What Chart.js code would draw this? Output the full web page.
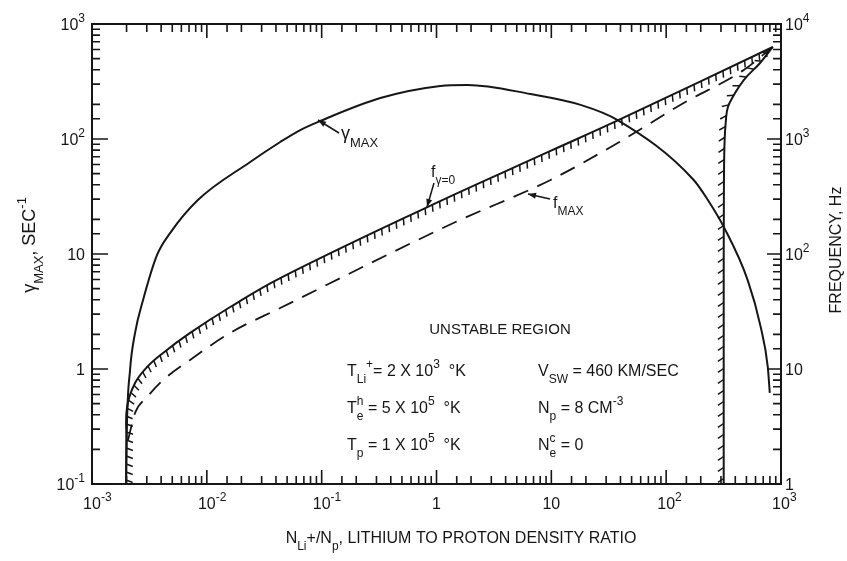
<!DOCTYPE html>
<html>
<head>
<meta charset="utf-8">
<script src="https://cdn.jsdelivr.net/npm/chart.js@4.4.1/dist/chart.umd.min.js"></script>
<style>
html, body { margin: 0; padding: 0; background: #fff; }
#wrap { width: 847px; height: 561px; }
</style>
</head>
<body>
<div id="wrap"><canvas id="chart" width="847" height="561"></canvas></div>
<script>
// Datos (x = N_Li+/N_p)
// gamma_MAX, eje izquierdo (SEC^-1)
const gammaX = [1.98e-3, 2.007e-3, 2.145e-3, 2.371e-3, 2.784e-3, 3.687e-3, 4.786e-3, 8.40e-3, 0.02385, 0.04356, 0.06508, 0.09723, 0.3243, 1.081, 1.86, 6.587, 17.97, 37.78, 173.7, 230, 317.2, 513.6, 666.8, 767.4, 798.6];
const gammaY = [0.1, 0.278, 0.98, 2.06, 3.98, 9.82, 15.2, 29.6, 63.1, 94.2, 119.7, 143.4, 227, 289, 295, 246, 198, 146, 44, 29.6, 17.2, 5.9, 2.3, 1.04, 0.62];

// f_gamma=0, eje derecho (Hz)
const fZeroX = [1.98e-3, 1.995e-3, 2.019e-3, 2.371e-3, 3.016e-3, 4.159e-3, 7.152e-3, 0.01597, 0.04356, 0.8333, 9.84, 37.1, 848];
const fZeroY = [1, 2.41, 4.67, 7.55, 10.4, 13.8, 20.6, 34.6, 61.8, 256, 787, 1435, 6310];

// borde derecho de la región inestable (Hz)
const edgeX = [317, 317, 318, 322, 332, 345, 380, 474, 657, 848];
const edgeY = [1, 30, 300, 900, 1500, 1900, 2317, 3258, 4581, 6310];

// f_MAX, eje derecho (Hz)
const fMaxX = [2.06e-3, 2.371e-3, 3.016e-3, 4.159e-3, 7.152e-3, 0.01597, 0.04356, 1.404, 9.84, 37.78, 142.1, 474, 848];
const fMaxY = [2.41, 4.15, 5.7, 8.0, 12.0, 20.6, 33.9, 186, 440, 923, 2056, 3981, 6310];

// Etiquetas de los ejes: [base, exponente]
const xTickVals = [1e-3, 1e-2, 1e-1, 1, 10, 100, 1000];
const xTickLabels = [['10', '-3'], ['10', '-2'], ['10', '-1'], ['1'], ['10'], ['10', '2'], ['10', '3']];
const yTickVals = [0.1, 1, 10, 100, 1000];
const yTickLabels = [['10', '-1'], ['1'], ['10'], ['10', '2'], ['10', '3']];
const fTickVals = [1, 10, 100, 1000, 10000];
const fTickLabels = [['1'], ['10'], ['10', '2'], ['10', '3'], ['10', '4']];

const ink = '#161616';
const fontFam = '"Liberation Sans", Arial, sans-serif';

function toPoints(xs, ys) {
    return xs.map((x, i) => ({ x: x, y: ys[i] }));
}

// Texto con subíndices y superíndices
function drawRich(ctx, runs, x, y, size, anchor) {
    const small = Math.round(size * 0.72);
    const parts = runs.map(([t, k]) => {
        const fs = (k === 'n') ? size : small;
        ctx.font = fs + 'px ' + fontFam;
        return { t: t, k: k, fs: fs, w: ctx.measureText(t).width };
    });
    let total = 0, prevW = 0;
    parts.forEach(p => {
        if (p.k === 'over') {
            total += Math.max(0, p.w - prevW);
        } else {
            total += p.w;
            prevW = p.w;
        }
    });
    let cx = x;
    if (anchor === 'center') cx = x - total / 2;
    else if (anchor === 'right') cx = x - total;
    else if (anchor === 'first') cx = x - parts[0].w / 2;
    ctx.textAlign = 'left';
    ctx.textBaseline = 'alphabetic';
    let lastX = cx, lastW = 0;
    parts.forEach(p => {
        let dy = 0;
        if (p.k === 'sub') dy = size * 0.45;
        if (p.k === 'sup' || p.k === 'over') dy = -size * 0.48;
        ctx.font = p.fs + 'px ' + fontFam;
        if (p.k === 'over') {
            ctx.fillText(p.t, lastX, y + dy);
            cx = lastX + Math.max(lastW, p.w);
        } else {
            ctx.fillText(p.t, cx, y + dy);
            lastX = cx;
            lastW = p.w;
            cx += p.w;
        }
    });
}

function labelRuns(lbl) {
    return lbl.length > 1 ? [[lbl[0], 'n'], [lbl[1], 'sup']] : [[lbl[0], 'n']];
}

function arrow(ctx, x0, y0, x1, y1) {
    ctx.beginPath();
    ctx.moveTo(x0, y0);
    ctx.lineTo(x1, y1);
    ctx.stroke();
    const ang = Math.atan2(y1 - y0, x1 - x0), L = 8, W = 3;
    ctx.beginPath();
    ctx.moveTo(x1, y1);
    ctx.lineTo(x1 - L * Math.cos(ang) + W * Math.sin(ang), y1 - L * Math.sin(ang) - W * Math.cos(ang));
    ctx.lineTo(x1 - L * Math.cos(ang) - W * Math.sin(ang), y1 - L * Math.sin(ang) + W * Math.cos(ang));
    ctx.closePath();
    ctx.fill();
}

function isDecade(v) {
    const l = Math.log10(v);
    return Math.abs(l - Math.round(l)) < 1e-6;
}

// Marco, marcas interiores y etiquetas de los ejes
const framePlugin = {
    id: 'frame',
    afterDraw(chart) {
        const { ctx, chartArea: a, scales } = chart;
        ctx.save();
        ctx.strokeStyle = ink;
        ctx.fillStyle = ink;
        ctx.lineWidth = 2;
        ctx.strokeRect(a.left, a.top, a.right - a.left, a.bottom - a.top);

        ctx.lineWidth = 1.6;
        ctx.beginPath();
        scales.x.ticks.forEach(t => {
            const px = scales.x.getPixelForValue(t.value);
            const len = isDecade(t.value) ? 14 : 8;
            ctx.moveTo(px, a.bottom); ctx.lineTo(px, a.bottom - len);
            ctx.moveTo(px, a.top); ctx.lineTo(px, a.top + len);
        });
        scales.y.ticks.forEach(t => {
            const py = scales.y.getPixelForValue(t.value);
            const len = isDecade(t.value) ? 16 : 8;
            ctx.moveTo(a.left, py); ctx.lineTo(a.left + len, py);
        });
        scales.y2.ticks.forEach(t => {
            const py = scales.y2.getPixelForValue(t.value);
            const len = isDecade(t.value) ? 14 : 8;
            ctx.moveTo(a.right, py); ctx.lineTo(a.right - len, py);
        });
        ctx.stroke();

        xTickVals.forEach((v, i) => {
            drawRich(ctx, labelRuns(xTickLabels[i]), scales.x.getPixelForValue(v), a.bottom + 25, 16, 'first');
        });
        yTickVals.forEach((v, i) => {
            drawRich(ctx, labelRuns(yTickLabels[i]), a.left - 7, scales.y.getPixelForValue(v) + 6, 16, 'right');
        });
        fTickVals.forEach((v, i) => {
            drawRich(ctx, labelRuns(fTickLabels[i]), a.right + 4, scales.y2.getPixelForValue(v) + 6, 16, 'left');
        });

        // Títulos de los ejes
        drawRich(ctx, [['N', 'n'], ['Li', 'sub'], ['+/N', 'n'], ['p', 'sub'], [', LITHIUM TO PROTON DENSITY RATIO', 'n']],
            461, 543, 16, 'center');
        ctx.save();
        ctx.translate(30, 245);
        ctx.rotate(-Math.PI / 2);
        drawRich(ctx, [['γ', 'n'], ['MAX', 'sub'], [', SEC', 'n'], ['-1', 'sup']], 0, 5, 18, 'center');
        ctx.restore();
        ctx.save();
        ctx.translate(836, 250);
        ctx.rotate(-Math.PI / 2);
        drawRich(ctx, [['FREQUENCY, Hz', 'n']], 0, 5, 16, 'center');
        ctx.restore();
        ctx.restore();
    }
};

// Rayado sobre las curvas de frontera
const hatchPlugin = {
    id: 'hatch',
    afterDatasetsDraw(chart) {
        const ctx = chart.ctx;
        chart.data.datasets.forEach((ds, i) => {
            if (!ds.hatch) return;
            const pts = chart.getDatasetMeta(i).data;
            const samples = [];
            for (let k = 0; k < pts.length - 1; k++) {
                const p0 = pts[k], p3 = pts[k + 1];
                const c1x = p0.cp2x ?? p0.x, c1y = p0.cp2y ?? p0.y;
                const c2x = p3.cp1x ?? p3.x, c2y = p3.cp1y ?? p3.y;
                for (let s = 0; s < 40; s++) {
                    const t = s / 40, u = 1 - t;
                    samples.push({
                        x: u * u * u * p0.x + 3 * u * u * t * c1x + 3 * u * t * t * c2x + t * t * t * p3.x,
                        y: u * u * u * p0.y + 3 * u * u * t * c1y + 3 * u * t * t * c2y + t * t * t * p3.y
                    });
                }
            }
            const last = pts[pts.length - 1];
            samples.push({ x: last.x, y: last.y });

            const { side, spacing, length, skew } = ds.hatch;
            const ca = Math.cos(skew), sa = Math.sin(skew);
            ctx.save();
            ctx.strokeStyle = ink;
            ctx.lineWidth = 1.5;
            ctx.beginPath();
            let d = spacing / 2;
            for (let k = 1; k < samples.length; k++) {
                const a = samples[k - 1], b = samples[k];
                const dx = b.x - a.x, dy = b.y - a.y, L = Math.hypot(dx, dy);
                if (!L) continue;
                const tx = dx / L, ty = dy / L;
                const nx = -ty * side, ny = tx * side;
                const hx = nx * ca - tx * sa, hy = ny * ca - ty * sa;
                while (d <= L) {
                    const px = a.x + tx * d, py = a.y + ty * d;
                    ctx.moveTo(px, py);
                    ctx.lineTo(px + hx * length, py + hy * length);
                    d += spacing;
                }
                d -= L;
            }
            ctx.stroke();
            ctx.restore();
        });
    }
};

// Rótulos dentro del área de la gráfica
const notesPlugin = {
    id: 'notes',
    afterDraw(chart) {
        const ctx = chart.ctx;
        ctx.save();
        ctx.fillStyle = ink;
        ctx.strokeStyle = ink;
        ctx.lineWidth = 1.5;

        arrow(ctx, 339, 133, 318, 120);
        drawRich(ctx, [['γ', 'n'], ['MAX', 'sub']], 341, 139, 18, 'left');

        arrow(ctx, 434, 183, 427, 207);
        drawRich(ctx, [['f', 'n'], ['γ=0', 'sub']], 431, 177, 16, 'left');

        arrow(ctx, 550, 199, 528, 194);
        drawRich(ctx, [['f', 'n'], ['MAX', 'sub']], 553, 208, 16, 'left');

        drawRich(ctx, [['UNSTABLE REGION', 'n']], 500, 334, 15, 'center');

        drawRich(ctx, [['T', 'n'], ['Li', 'sub'], ['+', 'sup'], ['= 2 X 10', 'n'], ['3', 'sup'], ['  °K', 'n']], 347, 376, 16, 'left');
        drawRich(ctx, [['T', 'n'], ['e', 'sub'], ['h', 'over'], [' = 5 X 10', 'n'], ['5', 'sup'], ['  °K', 'n']], 347, 413, 16, 'left');
        drawRich(ctx, [['T', 'n'], ['p', 'sub'], [' = 1 X 10', 'n'], ['5', 'sup'], ['  °K', 'n']], 347, 450, 16, 'left');
        drawRich(ctx, [['V', 'n'], ['SW', 'sub'], [' = 460 KM/SEC', 'n']], 538, 376, 16, 'left');
        drawRich(ctx, [['N', 'n'], ['p', 'sub'], [' = 8 CM', 'n'], ['-3', 'sup']], 538, 413, 16, 'left');
        drawRich(ctx, [['N', 'n'], ['e', 'sub'], ['c', 'over'], [' = 0', 'n']], 538, 450, 16, 'left');
        ctx.restore();
    }
};

const lineBase = {
    borderColor: ink,
    borderWidth: 2,
    pointRadius: 0,
    pointHitRadius: 0,
    tension: 0.4,
    fill: false
};

const hiddenAxis = {
    type: 'logarithmic',
    grid: { display: false },
    border: { display: false },
    ticks: { display: false }
};

new Chart(document.getElementById('chart'), {
    type: 'line',
    data: {
        datasets: [
            Object.assign({}, lineBase, { label: 'γMAX', data: toPoints(gammaX, gammaY), yAxisID: 'y',
                cubicInterpolationMode: 'monotone' }),
            Object.assign({}, lineBase, { label: 'fγ=0', data: toPoints(fZeroX, fZeroY), yAxisID: 'y2',
                hatch: { side: 1, spacing: 8, length: 7, skew: 0.35 } }),
            Object.assign({}, lineBase, { label: 'borde', data: toPoints(edgeX, edgeY), yAxisID: 'y2',
                hatch: { side: -1, spacing: 11, length: 7, skew: 0.6 } }),
            Object.assign({}, lineBase, { label: 'fMAX', data: toPoints(fMaxX, fMaxY), yAxisID: 'y2',
                cubicInterpolationMode: 'monotone', borderDash: [16, 10], borderWidth: 1.8 })
        ]
    },
    options: {
        responsive: false,
        animation: false,
        layout: { padding: { top: 24, left: 0, right: 0, bottom: 0 } },
        plugins: {
            legend: { display: false },
            tooltip: { enabled: false }
        },
        scales: {
            x: Object.assign({}, hiddenAxis, { min: 1e-3, max: 1e3, afterFit: s => { s.height = 77; } }),
            y: Object.assign({}, hiddenAxis, { position: 'left', min: 0.1, max: 1000, afterFit: s => { s.width = 92; } }),
            y2: Object.assign({}, hiddenAxis, { position: 'right', min: 1, max: 10000, afterFit: s => { s.width = 66; } })
        }
    },
    plugins: [hatchPlugin, framePlugin, notesPlugin]
});
</script>
</body>
</html>
